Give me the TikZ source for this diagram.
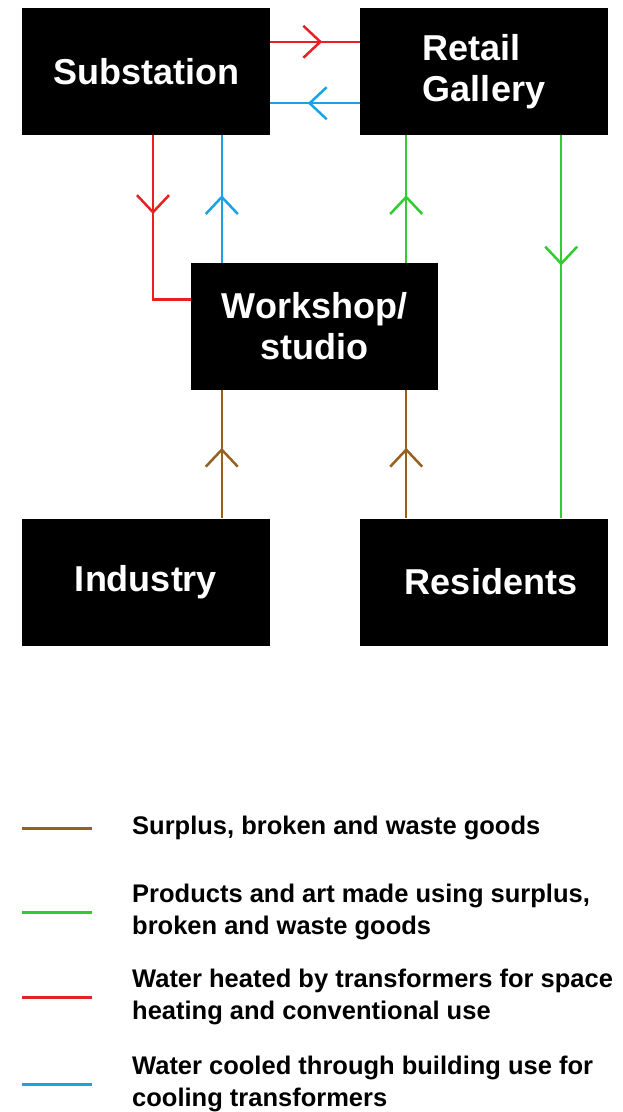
\documentclass[tikz,border=0pt]{standalone}
\usepackage{fontspec}
\setmainfont{Liberation Sans}
\usetikzlibrary{arrows.meta,decorations.markings}

\definecolor{heated}{RGB}{232,32,36}
\definecolor{cooled}{RGB}{30,160,228}
\definecolor{products}{RGB}{48,204,48}
\definecolor{waste}{RGB}{150,96,32}

\begin{document}
\begin{tikzpicture}[x=1pt, y=-1pt,
    block/.style={fill=black, text=white, inner sep=0pt, align=left,
      minimum width=248pt, minimum height=127pt,
      font=\fontsize{36}{41}\selectfont\bfseries},
    flow/.style={line width=2.5pt, postaction={decorate},
      decoration={markings, mark=at position #1 with
        {\arrow{Straight Barb[length=17pt, width=32pt]}}}},
    key/.style={anchor=west, inner sep=0pt, align=left,
      font=\fontsize{25.5}{31.5}\selectfont\bfseries}]
    \useasboundingbox (0,0) rectangle (622,1112);

    % buildings
    \node[block] (sub) at (146,71.5) {Substation};
    \node[block] (gallery) at (484,71.5) {Retail\\Gallery};
    \node[block, align=center, minimum width=247pt] (workshop) at (314.5,326.5) {Workshop/\\studio};
    \node[block] (industry) at (146,582) {Industry};
    \node[block] (residents) at (484,582) {\hspace*{14pt}Residents};

    \coordinate (wl) at ([xshift=31pt]workshop.north west);
    \coordinate (wr) at ([xshift=-32pt]workshop.north east);
    \coordinate (gr) at ([xshift=-47pt]gallery.south east);

    % water loop between substation, gallery and workshop
    \draw[heated, flow=0.58] ([yshift=-34pt]sub.north east) -- ([yshift=-34pt]gallery.north west);
    \draw[cooled, flow=0.58] ([yshift=32pt]gallery.south west) -- ([yshift=32pt]sub.south east);
    \draw[heated, flow=0.39] ([xshift=7pt]sub.south) |- ([yshift=27pt]workshop.west);
    \draw[cooled, flow=0.53] (wl) -- (wl |- sub.south);

    % goods and products
    \draw[products, flow=0.53] (wr) -- (wr |- gallery.south);
    \draw[products, flow=0.34] (gr) -- (gr |- residents.north);
    \draw[waste, flow=0.55] (wl |- industry.north) -- (wl |- workshop.south);
    \draw[waste, flow=0.55] (wr |- residents.north) -- (wr |- workshop.south);

    % legend
    \foreach \c/\y/\t in {waste/828/{Surplus, broken and waste goods},
        products/912/{Products and art made using surplus,\\broken and waste goods},
        heated/997/{Water heated by transformers for space\\heating and conventional use},
        cooled/1084/{Water cooled through building use for\\cooling transformers}} {
      \draw[\c, line width=3pt] (22,\y) -- (92,\y);
      \node[key] at (132,\y) {\t};
    }
\end{tikzpicture}
\end{document}
